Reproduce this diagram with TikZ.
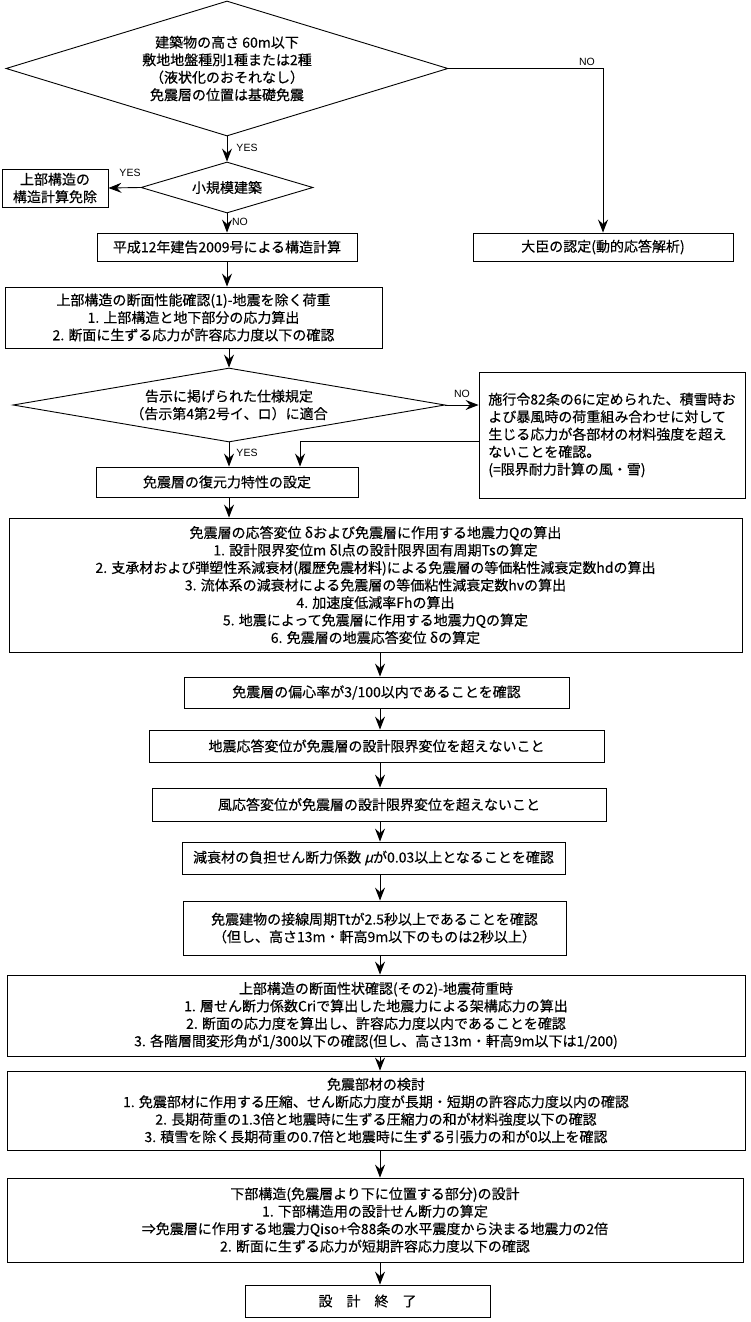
\documentclass[tikz,border=0pt]{standalone}
\usepackage{fontspec}
\setmainfont{Noto Sans CJK JP}[FakeBold=0.3]
\newfontfamily\lab{Liberation Sans}
\newfontfamily\slantjp[FakeSlant=0.25,FakeBold=0.3]{Noto Sans CJK JP}
\usetikzlibrary{shapes.geometric,arrows.meta}
\tikzset{
  jpfont/.style={font=\fontsize{14}{17.5}\selectfont},
  box/.style={draw, line width=0.9pt, inner sep=0pt, align=center, jpfont},
  dia/.style={draw, diamond, line width=0.9pt, inner sep=0pt, align=center, jpfont},
  arr/.style={line width=0.9pt, -{Stealth[length=13pt,width=10pt,inset=4.5pt]}},
  ln/.style={line width=0.9pt},
  yn/.style={font=\lab\fontsize{10.5}{12}\selectfont, inner sep=0pt}
}
\begin{document}
\begin{tikzpicture}[x=1pt,y=-1pt]
\useasboundingbox (0,0) rectangle (750,1322);
\fill[white] (0,0) rectangle (750,1322);
% nodes
\node[dia, minimum width=442pt, minimum height=135pt, aspect=3.27] (d1) at (227,68.5)
  {建築物の高さ 60m以下\\敷地地盤種別1種または2種\\（液状化のおそれなし）\\免震層の位置は基礎免震};
\node[dia, minimum width=172pt, minimum height=51pt, aspect=3.37] (d2) at (227,187.5) {小規模建築};
\node[box, minimum width=106pt, minimum height=38pt] (b0) at (55,188) {上部構造の\\構造計算免除};
\node[box, minimum width=260pt, minimum height=28pt] (b1) at (227,247) {平成12年建告2009号による構造計算};
\node[box, minimum width=260pt, minimum height=28pt] (b2) at (603,247) {大臣の認定(動的応答解析)};
\node[box, minimum width=377pt, minimum height=61pt] (b3) at (193.5,317.5)
  {上部構造の断面性能確認(1)-地震を除く荷重\\1. 上部構造と地下部分の応力算出\\2. 断面に生ずる応力が許容応力度以下の確認};
\node[dia, minimum width=432pt, minimum height=74pt, aspect=5.84] (d3) at (229,405)
  {告示に掲げられた仕様規定\\（告示第4第2号イ、ロ）に適合};
\node[box, minimum width=266pt, minimum height=126pt, align=left] (b4) at (612,435)
  {施行令82条の6に定められた、積雪時お\\よび暴風時の荷重組み合わせに対して\\生じる応力が各部材の材料強度を超え\\ないことを確認。\\(=限界耐力計算の風・雪)};
\node[box, minimum width=262pt, minimum height=30pt] (b5) at (227,482) {免震層の復元力特性の設定};
\node[box, minimum width=733pt, minimum height=134pt] (b6) at (375.5,585)
  {免震層の応答変位 δおよび免震層に作用する地震力Qの算出\\
   1. 設計限界変位m δl点の設計限界固有周期Tsの算定\\
   2. 支承材および弾塑性系減衰材(履歴免震材料)による免震層の等価粘性減衰定数hdの算出\\
   3. 流体系の減衰材による免震層の等価粘性減衰定数hvの算出\\
   4. 加速度低減率Fhの算出\\
   5. 地震によって免震層に作用する地震力Qの算定\\
   6. 免震層の地震応答変位 δの算定};
\node[box, minimum width=385pt, minimum height=31pt] (b7) at (376.5,692.5) {免震層の偏心率が3/100以内であることを確認};
\node[box, minimum width=455pt, minimum height=32pt] (b8) at (376.5,746) {地震応答変位が免震層の設計限界変位を超えないこと};
\node[box, minimum width=454pt, minimum height=33pt] (b9) at (379,804.5) {風応答変位が免震層の設計限界変位を超えないこと};
\node[box, minimum width=383pt, minimum height=32pt] (b10) at (373.5,858) {減衰材の負担せん断力係数 {\slantjp μ}が0.03以上となることを確認};
\node[box, minimum width=383pt, minimum height=54pt] (b11) at (374.5,928)
  {免震建物の接線周期Ttが2.5秒以上であることを確認\\（但し、高さ13m・軒高9m以下のものは2秒以上）};
\node[box, minimum width=738pt, minimum height=81pt] (b12) at (376,1015.5)
  {上部構造の断面性状確認(その2)-地震荷重時\\
   1. 層せん断力係数Criで算出した地震力による架構応力の算出\\
   2. 断面の応力度を算出し、許容応力度以内であることを確認\\
   3. 各階層間変形角が1/300以下の確認(但し、高さ13m・軒高9m以下は1/200)};
\node[box, minimum width=738pt, minimum height=79pt] (b13) at (376,1110.5)
  {免震部材の検討\\
   1. 免震部材に作用する圧縮、せん断応力度が長期・短期の許容応力度以内の確認\\
   2. 長期荷重の1.3倍と地震時に生ずる圧縮力の和が材料強度以下の確認\\
   3. 積雪を除く長期荷重の0.7倍と地震時に生ずる引張力の和が0以上を確認};
\node[box, minimum width=736pt, minimum height=84pt] (b14) at (375,1220)
  {下部構造(免震層より下に位置する部分)の設計\\
   1. 下部構造用の設計せん断力の算定\\
   ⇒免震層に作用する地震力Qiso+令88条の水平震度から決まる地震力の2倍\\
   2. 断面に生ずる応力が短期許容応力度以下の確認};
\node[box, minimum width=245pt, minimum height=32pt] (b15) at (367.5,1301) {設　計　終　了};
% helper coordinates
\coordinate (col) at (380,0);
\coordinate (fb) at (300,441);
% connectors
\draw[arr] (d1.south) -- (d2.north);
\draw[arr] (d2.west) -- (b0.east);
\draw[arr] (d2.south) -- (b1.north);
\draw[arr] (d1.east) -| (b2.north);
\draw[arr] (b1.south) -- (b1.south |- b3.north);
\draw[arr] (d3.north |- b3.south) -- (d3.north);
\draw[arr] (d3.east) -- (d3.east -| b4.west);
\draw[arr] (b4.west |- fb) -- (fb) -- (fb |- b5.north);
\draw[arr] (d3.south) -- (d3.south |- b5.north);
\draw[arr] (d3.south |- b5.south) -- (d3.south |- b6.north);
\draw[arr] (col |- b6.south) -- (col |- b7.north);
\draw[arr] (col |- b7.south) -- (col |- b8.north);
\draw[arr] (col |- b8.south) -- (col |- b9.north);
\draw[arr] (col |- b9.south) -- (col |- b10.north);
\draw[arr] (col |- b10.south) -- (col |- b11.north);
\draw[arr] (col |- b11.south) -- (col |- b12.north);
\draw[arr] (col |- b12.south) -- (col |- b13.north);
\draw[arr] (col |- b13.south) -- (col |- b14.north);
\draw[arr] (col |- b14.south) -- (col |- b15.north);
% labels
\node[yn] (lno1) at (587,62) {NO};
\node[yn] (lyes1) at (247,148) {YES};
\node[yn] (lyes2) at (130,173) {YES};
\node[yn] (lno2) at (240,222) {NO};
\node[yn] (lno3) at (462,394) {NO};
\node[yn] (lyes3) at (247,453) {YES};
\end{tikzpicture}
\end{document}
